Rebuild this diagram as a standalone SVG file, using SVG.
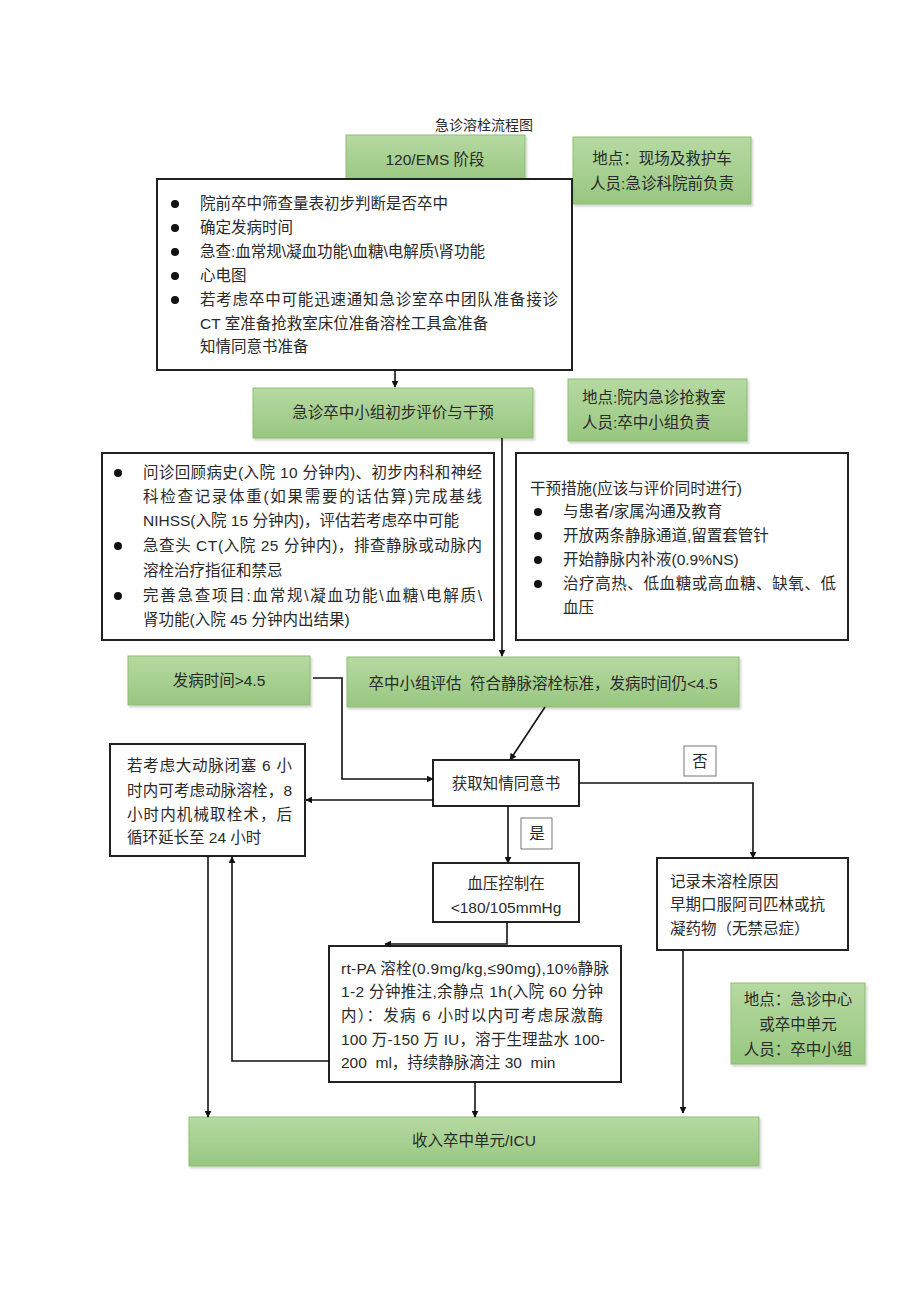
<svg xmlns="http://www.w3.org/2000/svg" width="920" height="1301" viewBox="0 0 920 1301">
<defs>
<linearGradient id="g" x1="0" y1="0" x2="0" y2="1">
<stop offset="0" stop-color="#b6daa2"/>
<stop offset="1" stop-color="#98c680"/>
</linearGradient>
<filter id="sh" x="-5%" y="-10%" width="115%" height="130%">
<feDropShadow dx="1.5" dy="2" stdDeviation="1.2" flood-color="#000" flood-opacity="0.18"/>
</filter>
<marker id="ah" viewBox="0 0 10 10" refX="9" refY="5" markerWidth="7" markerHeight="7" orient="auto" markerUnits="userSpaceOnUse">
<path d="M0,0 L10,5 L0,10 z" fill="#111"/>
</marker>
<style>
.green{fill:url(#g);stroke:#8dbd74;stroke-width:1;filter:url(#sh)}
.box{fill:#fff;stroke:#222;stroke-width:2}
.tag{fill:#fff;stroke:#777;stroke-width:1}
text{font-family:"Liberation Sans","Noto Sans CJK SC",sans-serif;font-size:15.5px;fill:#2a2a2a}
.c{text-anchor:middle}
.t{font-size:14px}
.dot{fill:#111}
.ln{fill:none;stroke:#111;stroke-width:1.6;marker-end:url(#ah)}
</style>
</defs>
<rect width="920" height="1301" fill="#fff"/>
<text id="title" class="c t" x="484" y="130">急诊溶栓流程图</text>

<g id="ems-stage">
<rect class="green" x="346" y="135" width="179" height="48"/>
<text class="c" x="435" y="165">120/EMS 阶段</text>
</g>
<g id="ems-location">
<rect class="green" x="573" y="137" width="178" height="67"/>
<text class="c" x="662" y="164">地点：现场及救护车</text>
<text class="c" x="662" y="189">人员:急诊科院前负责</text>
</g>
<g id="ems-tasks">
<rect class="box" x="157" y="179" width="415" height="191"/>
<circle class="dot" cx="175" cy="204" r="4"/>
<circle class="dot" cx="175" cy="228" r="4"/>
<circle class="dot" cx="175" cy="252" r="4"/>
<circle class="dot" cx="175" cy="276" r="4"/>
<circle class="dot" cx="175" cy="300" r="4"/>
<text x="200" y="209">院前卒中筛查量表初步判断是否卒中</text>
<text x="200" y="233">确定发病时间</text>
<text x="200" y="257">急查:血常规\凝血功能\血糖\电解质\肾功能</text>
<text x="200" y="281">心电图</text>
<text x="200" y="305" textLength="358" lengthAdjust="spacing">若考虑卒中可能迅速通知急诊室卒中团队准备接诊</text>
<text x="200" y="329">CT 室准备抢救室床位准备溶栓工具盒准备</text>
<text x="200" y="352">知情同意书准备</text>
</g>

<g id="team-stage">
<rect class="green" x="253" y="388" width="280" height="50"/>
<text class="c" x="393" y="418">急诊卒中小组初步评价与干预</text>
</g>
<g id="team-location">
<rect class="green" x="568" y="379" width="179" height="62"/>
<text x="582" y="403">地点:院内急诊抢救室</text>
<text x="582" y="428">人员:卒中小组负责</text>
</g>
<g id="evaluation">
<rect class="box" x="102" y="453" width="392" height="187"/>
<circle class="dot" cx="118" cy="473" r="4"/>
<circle class="dot" cx="118" cy="546" r="4"/>
<circle class="dot" cx="118" cy="596" r="4"/>
<text x="143" y="478" textLength="339" lengthAdjust="spacing">问诊回顾病史(入院 10 分钟内)、初步内科和神经</text>
<text x="143" y="502" textLength="339" lengthAdjust="spacing">科检查记录体重(如果需要的话估算)完成基线</text>
<text x="143" y="526">NIHSS(入院 15 分钟内)，评估若考虑卒中可能</text>
<text x="143" y="551" textLength="339" lengthAdjust="spacing">急查头 CT(入院 25 分钟内)，排查静脉或动脉内</text>
<text x="143" y="576">溶栓治疗指征和禁忌</text>
<text x="143" y="601" textLength="339" lengthAdjust="spacing">完善急查项目:血常规\凝血功能\血糖\电解质\</text>
<text x="143" y="625">肾功能(入院 45 分钟内出结果)</text>
</g>
<g id="intervention">
<rect class="box" x="516" y="453" width="332" height="187"/>
<text x="530" y="494">干预措施(应该与评价同时进行)</text>
<circle class="dot" cx="538" cy="512" r="4"/>
<circle class="dot" cx="538" cy="536" r="4"/>
<circle class="dot" cx="538" cy="560" r="4"/>
<circle class="dot" cx="538" cy="584" r="4"/>
<text x="563" y="517">与患者/家属沟通及教育</text>
<text x="563" y="541">开放两条静脉通道,留置套管针</text>
<text x="563" y="565">开始静脉内补液(0.9%NS)</text>
<text x="563" y="589" textLength="273" lengthAdjust="spacing">治疗高热、低血糖或高血糖、缺氧、低</text>
<text x="563" y="613">血压</text>
</g>

<g id="onset-over">
<rect class="green" x="128" y="656" width="182" height="49"/>
<text class="c" x="219" y="686">发病时间&gt;4.5</text>
</g>
<g id="meets-criteria">
<rect class="green" x="347" y="657" width="392" height="50"/>
<text class="c" x="543" y="689" xml:space="preserve">卒中小组评估  符合静脉溶栓标准，发病时间仍&lt;4.5</text>
</g>

<g id="consent">
<rect class="box" x="433" y="760" width="146" height="46"/>
<text class="c" x="506" y="789">获取知情同意书</text>
</g>
<g id="label-no">
<rect class="tag" x="684" y="746" width="32" height="30"/>
<text class="c" x="700" y="767">否</text>
</g>
<g id="label-yes">
<rect class="tag" x="521" y="818" width="31" height="31"/>
<text class="c" x="537" y="839">是</text>
</g>
<g id="thrombectomy">
<rect class="box" x="110" y="744" width="195" height="112"/>
<text x="127" y="771" textLength="165" lengthAdjust="spacing">若考虑大动脉闭塞 6 小</text>
<text x="127" y="796" textLength="165" lengthAdjust="spacing">时内可考虑动脉溶栓，8</text>
<text x="127" y="820" textLength="165" lengthAdjust="spacing">小时内机械取栓术，后</text>
<text x="127" y="843">循环延长至 24 小时</text>
</g>
<g id="bp-control">
<rect class="box" x="433" y="863" width="146" height="59"/>
<text class="c" x="506" y="889">血压控制在</text>
<text class="c" x="506" y="913">&lt;180/105mmHg</text>
</g>
<g id="no-lysis">
<rect class="box" x="657" y="858" width="191" height="92"/>
<text x="670" y="887">记录未溶栓原因</text>
<text x="670" y="910">早期口服阿司匹林或抗</text>
<text x="670" y="934">凝药物（无禁忌症）</text>
</g>
<g id="rtpa">
<rect class="box" x="329" y="946" width="292" height="136"/>
<text x="341" y="974" textLength="268" lengthAdjust="spacing">rt-PA 溶栓(0.9mg/kg,≤90mg),10%静脉</text>
<text x="341" y="997" textLength="262" lengthAdjust="spacing">1-2 分钟推注,余静点 1h(入院 60 分钟</text>
<text x="341" y="1021" textLength="262" lengthAdjust="spacing">内）：发病 6 小时以内可考虑尿激酶</text>
<text x="341" y="1045" textLength="264" lengthAdjust="spacing">100 万-150 万 IU，溶于生理盐水 100-</text>
<text x="341" y="1068" xml:space="preserve">200  ml，持续静脉滴注 30  min</text>
</g>
<g id="unit-location">
<rect class="green" x="731" y="983" width="134" height="81"/>
<text class="c" x="798" y="1005">地点：急诊中心</text>
<text class="c" x="798" y="1030">或卒中单元</text>
<text class="c" x="798" y="1055">人员：卒中小组</text>
</g>
<g id="admit">
<rect class="green" x="189" y="1117" width="570" height="49"/>
<text class="c" x="474" y="1146">收入卒中单元/ICU</text>
</g>

<g id="connectors">
<path class="ln" d="M395,370 V387"/>
<path class="ln" d="M502,438 V656"/>
<path class="ln" d="M313,678 H342 V779 H433"/>
<path class="ln" d="M545,707 L510,760"/>
<path class="ln" d="M433,800 H306"/>
<path class="ln" d="M579,783 H753 V858"/>
<path class="ln" d="M508,806 V863"/>
<path class="ln" d="M507,922 V944 H385"/>
<path class="ln" d="M329,1061 H232 V857"/>
<path class="ln" d="M208,856 V1117"/>
<path class="ln" d="M475,1082 V1117"/>
<path class="ln" d="M683,950 V1113"/>
</g>
</svg>
